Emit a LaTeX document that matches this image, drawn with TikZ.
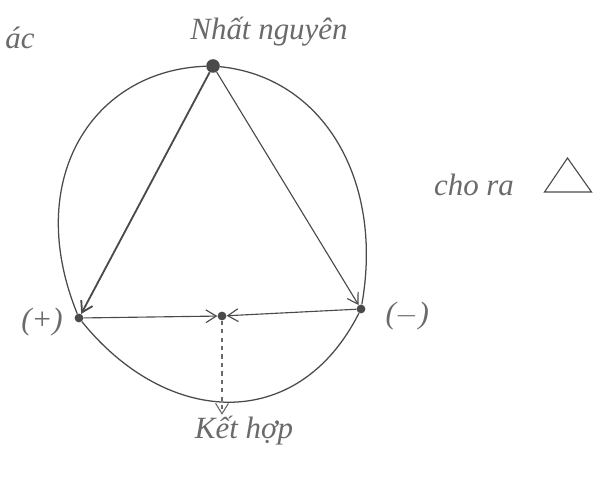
\documentclass[tikz,border=0pt]{standalone}
\usepackage{fontspec}
\setmainfont{Liberation Serif}
\usetikzlibrary{arrows.meta,shapes.geometric}
\definecolor{pencil}{HTML}{4A4A4A}
\definecolor{pencilsoft}{HTML}{6A6A6A}

\begin{document}
\begin{tikzpicture}[
      dot/.style={circle,fill=pencil,inner sep=0pt,minimum size=2.2mm},
      bigdot/.style={dot,minimum size=3.4mm},
      lbl/.style={text=pencilsoft,font=\itshape\LARGE,inner sep=1pt},
      biglbl/.style={lbl,font=\itshape\fontsize{22}{26}\selectfont},
      rim/.style={line width=0.9pt,color=pencil},
      arr/.style={-{Straight Barb[length=2.6mm,width=3.2mm]},line width=0.8pt,color=pencil},
      dsh/.style={arr,dashed,color=pencilsoft}
    ]
      \useasboundingbox (0,0) rectangle (15.05,11.975);
      % the three poles and the meeting point
      \node[bigdot] (top) at (5.325,10.325) {};
      \node[dot] (plus) at (1.975,4.025) {};
      \node[dot] (minus) at (9.025,4.25) {};
      \node[dot] (mid) at (5.55,4.075) {};
      % texts
      \node[biglbl] (head) at (6.725,11.175) {Nhất nguyên};
      \node[biglbl] (corner) at (0.5,11.025) {ác};
      \node[biglbl] (plustxt) at (1.05,3.925) {(+)};
      \node[biglbl] (minustxt) at (10.18,4.075) {($-$)};
      \node[biglbl] (join) at (6.1,1.2) {Kết hợp};
      \node[biglbl] (gives) at (11.85,7.35) {cho ra};
      \coordinate (tri) at (14.2,7.175);
      \draw[line width=0.8pt,color=pencil] (tri) ++(-0.5875,0) -- ++(1.175,0) -- ++(-0.6,0.85) -- cycle;
      % outline
      \draw[rim] (top) .. controls (2.325,10.225) and (0.5625,7.5) .. (plus);
      \draw[rim] (top) .. controls (8.075,10.05) and (9.6,7.475) .. (minus);
      \draw[rim] (plus) .. controls (4.175,1.3) and (7.45,1.125) .. (minus);
      % triangle
      \draw[arr,line width=1.3pt] (top)--(plus);
      \draw[arr] (top)--(minus);
      \draw[arr] (plus)--(mid);
      \draw[arr] (minus)--(mid);
      \draw[dsh] (mid)--(join.north -| mid);
\end{tikzpicture}
\end{document}
